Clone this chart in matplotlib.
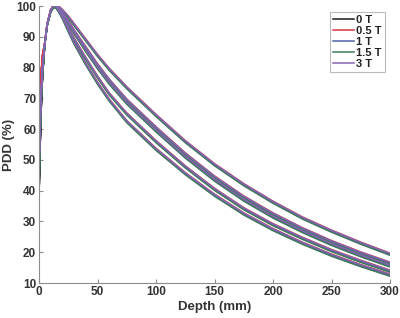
import matplotlib
matplotlib.use("Agg")
import matplotlib.pyplot as plt

plt.rcParams['font.family'] = ['Liberation Sans', 'DejaVu Sans']

fields = ["0 T", "0.5 T", "1 T", "1.5 T", "3 T"]
colors = ["#1a1a1a", "#d8343f", "#4f62a8", "#3f7a5a", "#8466b0"]

# depth points (mm)
depth_surf = [0, 1, 2, 3]
depth_tail = [5, 7, 10, 12, 14, 16, 18, 20, 25, 30, 40, 50, 60, 75,
              100, 125, 150, 175, 200, 225, 250, 275, 300]

# first mm of the build-up, per field
surface = {
    "0 T":   [38, 55, 68, 77],
    "0.5 T": [62, 72, 79, 84],
    "1 T":   [45, 60, 71, 79],
    "1.5 T": [42, 58, 70, 78],
    "3 T":   [48, 63, 73, 80],
}

# five field-size bundles, PDD (%) beyond 5 mm
pdd_a = [88, 94, 98.5, 99.7, 100, 99.8, 99.3, 98.6, 96.5, 94, 89, 84, 79.5,
         73.5, 64.5, 56, 48.5, 42, 36.3, 31.2, 26.9, 23, 19.4]
pdd_b = [88, 94, 98.5, 99.7, 100, 99.5, 98.8, 97.8, 95, 92, 86.5, 81, 76,
         69.5, 60.5, 52, 44.5, 38, 32.5, 27.7, 23.5, 19.8, 16.5]
pdd_c = [88, 94, 98.5, 99.7, 100, 99.4, 98.6, 97.5, 94.5, 91.3, 85.5, 80, 75,
         68.5, 59.5, 51, 43.5, 37, 31.5, 26.8, 22.6, 18.9, 15.6]
pdd_d = [88, 94, 98.5, 99.7, 100, 99.1, 98, 96.7, 93, 89.3, 83, 77, 71.5,
         65, 56, 47.8, 40.5, 34.2, 29, 24.6, 20.6, 17.1, 13.9]
pdd_e = [88, 94, 98.5, 99.7, 100, 98.9, 97.6, 96.2, 92, 88, 81.2, 75, 69.5,
         62.5, 53.5, 45.6, 38.6, 32.5, 27.4, 23, 19.1, 15.7, 12.6]
bundles = [pdd_a, pdd_b, pdd_c, pdd_d, pdd_e]

# small per-field shift of the tail (%)
tail_shift = [0.0, 0.3, -0.2, -0.4, 0.2]

fig = plt.figure(figsize=(4, 3.18), dpi=100)
ax = fig.add_axes([0.0975, 0.110, 0.8775, 0.871])

for i, f in enumerate(fields):
    for j, b in enumerate(bundles):
        d = depth_surf + depth_tail
        v = surface[f] + [x + tail_shift[i] for x in b]
        ax.plot(d, v, color=colors[i], lw=1.1,
                label=f if j == 0 else None)

ax.set_xlim(0, 300)
ax.set_ylim(10, 100)
ax.set_xticks(range(0, 301, 50))
ax.set_yticks(range(10, 101, 10))

gray = "#8c8c8c"
for s in ["top", "right"]:
    ax.spines[s].set_visible(False)
for s in ["left", "bottom"]:
    ax.spines[s].set_color(gray)
    ax.spines[s].set_linewidth(0.8)
ax.tick_params(direction="in", length=3, color=gray, width=0.8,
               labelsize=8.5, labelcolor="#333333", pad=2)
for lab in ax.get_xticklabels() + ax.get_yticklabels():
    lab.set_fontweight("bold")

ax.set_xlabel("Depth (mm)", fontsize=9.5, fontweight="bold", color="#333333", labelpad=2)
ax.set_ylabel("PDD (%)", fontsize=9.5, fontweight="bold", color="#333333", labelpad=1)

leg = ax.legend(loc="upper right", bbox_to_anchor=(0.985, 0.978), fontsize=8,
                handlelength=1.9, handletextpad=0.2, labelspacing=0.1,
                borderpad=0.25, borderaxespad=0, frameon=True, fancybox=False)
leg.get_frame().set_edgecolor("#aaaaaa")
leg.get_frame().set_linewidth(0.8)
for t in leg.get_texts():
    t.set_fontweight("bold")
    t.set_color("#222222")

fig.savefig("out.png", dpi=100)
